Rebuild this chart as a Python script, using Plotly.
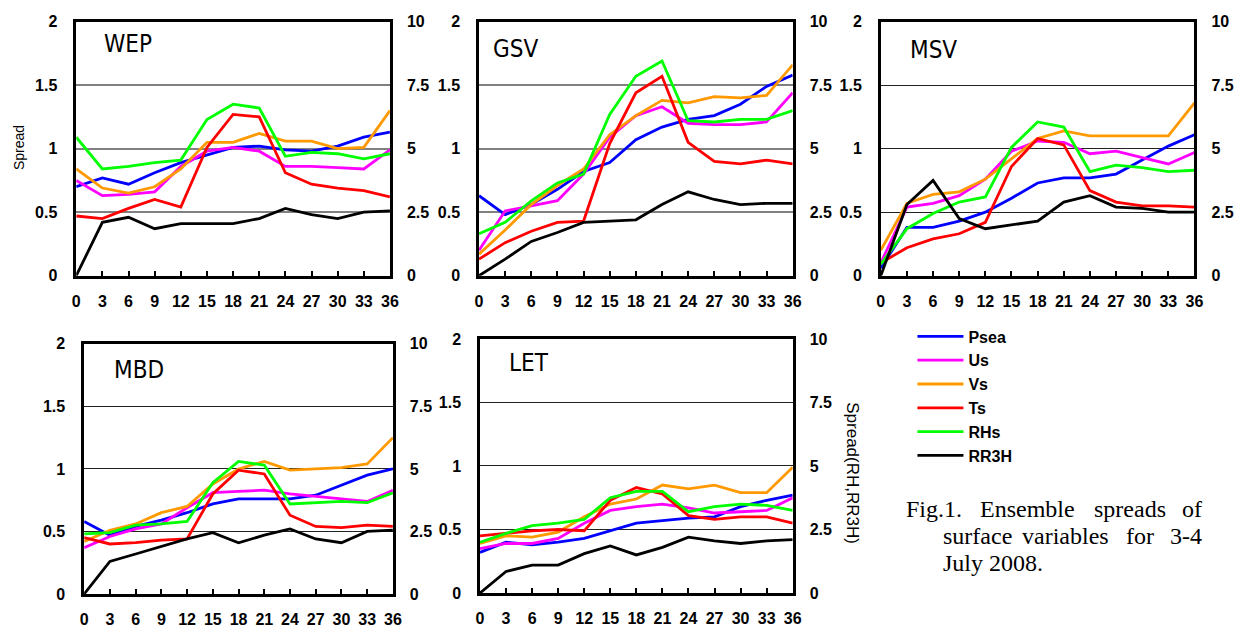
import plotly.graph_objects as go

# ---------------- data ----------------
hours = [0, 3, 6, 9, 12, 15, 18, 21, 24, 27, 30, 33, 36]
left_ticks = [0, 0.5, 1, 1.5, 2]
left_ticktext = ["0", "0.5", "1", "1.5", "2"]
right_ticks = [0, 2.5, 5, 7.5, 10]
right_ticktext = ["0", "2.5", "5", "7.5", "10"]

series_names = ["Psea", "Us", "Vs", "Ts", "RHs", "RR3H"]
series_colors = ["#0000FF", "#FF00FF", "#FF9900", "#FF0000", "#00FF00", "#000000"]

# WEP (Psea, Us, Vs, Ts on left axis; RHs, RR3H on right axis)
wep_psea = [0.70, 0.77, 0.72, 0.81, 0.89, 0.95, 1.01, 1.02, 0.99, 0.98, 1.02, 1.09, 1.13]
wep_us = [0.75, 0.63, 0.64, 0.66, 0.86, 0.98, 1.01, 0.98, 0.86, 0.86, 0.85, 0.84, 0.99]
wep_vs = [0.84, 0.69, 0.65, 0.70, 0.84, 1.05, 1.05, 1.12, 1.06, 1.06, 1.00, 1.01, 1.30]
wep_ts = [0.47, 0.45, 0.53, 0.60, 0.54, 1.01, 1.27, 1.25, 0.81, 0.72, 0.69, 0.67, 0.62]
wep_rhs = [5.45, 4.2, 4.3, 4.45, 4.55, 6.15, 6.75, 6.6, 4.7, 4.85, 4.8, 4.6, 4.8]
wep_rr3h = [0.0, 2.1, 2.3, 1.85, 2.05, 2.05, 2.05, 2.25, 2.65, 2.4, 2.25, 2.5, 2.55]

# GSV
gsv_psea = [0.63, 0.48, 0.56, 0.68, 0.82, 0.89, 1.07, 1.17, 1.23, 1.26, 1.35, 1.49, 1.58]
gsv_us = [0.20, 0.51, 0.55, 0.59, 0.80, 1.09, 1.26, 1.33, 1.20, 1.19, 1.19, 1.21, 1.44]
gsv_vs = [0.17, 0.36, 0.56, 0.71, 0.84, 1.11, 1.26, 1.38, 1.36, 1.41, 1.40, 1.42, 1.66]
gsv_ts = [0.13, 0.26, 0.35, 0.42, 0.43, 1.04, 1.44, 1.57, 1.05, 0.90, 0.88, 0.91, 0.88]
gsv_rhs = [1.65, 2.1, 2.95, 3.65, 4.0, 6.35, 7.85, 8.45, 6.1, 6.05, 6.15, 6.15, 6.5]
gsv_rr3h = [0.0, 0.65, 1.35, 1.7, 2.1, 2.15, 2.2, 2.8, 3.3, 3.0, 2.8, 2.85, 2.85]

# MSV
msv_psea = [0.06, 0.38, 0.38, 0.43, 0.50, 0.61, 0.73, 0.77, 0.77, 0.80, 0.91, 1.02, 1.11]
msv_us = [0.10, 0.54, 0.57, 0.63, 0.76, 0.98, 1.06, 1.05, 0.96, 0.98, 0.93, 0.88, 0.97]
msv_vs = [0.20, 0.57, 0.64, 0.66, 0.76, 0.92, 1.08, 1.14, 1.10, 1.10, 1.10, 1.10, 1.36]
msv_ts = [0.10, 0.22, 0.29, 0.33, 0.42, 0.86, 1.08, 1.03, 0.67, 0.58, 0.55, 0.55, 0.54]
msv_rhs = [0.45, 1.85, 2.45, 2.9, 3.1, 5.05, 6.05, 5.85, 4.1, 4.35, 4.25, 4.1, 4.15]
msv_rr3h = [0.0, 2.8, 3.75, 2.25, 1.85, 2.0, 2.15, 2.9, 3.15, 2.7, 2.65, 2.5, 2.5]

# MBD
mbd_psea = [0.58, 0.47, 0.54, 0.59, 0.65, 0.72, 0.76, 0.76, 0.76, 0.79, 0.87, 0.95, 1.00]
mbd_us = [0.37, 0.46, 0.52, 0.56, 0.69, 0.81, 0.82, 0.83, 0.80, 0.78, 0.76, 0.74, 0.83]
mbd_vs = [0.42, 0.51, 0.56, 0.65, 0.70, 0.88, 1.00, 1.06, 0.99, 1.00, 1.01, 1.04, 1.25]
mbd_ts = [0.45, 0.40, 0.41, 0.43, 0.44, 0.80, 0.99, 0.96, 0.63, 0.54, 0.53, 0.55, 0.54]
mbd_rhs = [2.4, 2.45, 2.75, 2.8, 2.9, 4.45, 5.3, 5.15, 3.6, 3.65, 3.7, 3.65, 4.05]
mbd_rr3h = [0.0, 1.3, 1.6, 1.9, 2.2, 2.45, 2.05, 2.35, 2.6, 2.2, 2.05, 2.5, 2.55]

# LET
let_psea = [0.32, 0.40, 0.38, 0.40, 0.43, 0.49, 0.55, 0.57, 0.59, 0.60, 0.68, 0.73, 0.77]
let_us = [0.35, 0.39, 0.39, 0.43, 0.55, 0.65, 0.68, 0.70, 0.67, 0.63, 0.64, 0.65, 0.75]
let_vs = [0.39, 0.45, 0.44, 0.48, 0.60, 0.70, 0.74, 0.85, 0.82, 0.85, 0.79, 0.79, 0.99]
let_ts = [0.45, 0.47, 0.49, 0.50, 0.49, 0.73, 0.83, 0.78, 0.61, 0.58, 0.60, 0.60, 0.55]
let_rhs = [2.0, 2.35, 2.65, 2.75, 2.9, 3.75, 4.0, 4.0, 3.2, 3.4, 3.5, 3.45, 3.25]
let_rr3h = [0.0, 0.85, 1.1, 1.1, 1.55, 1.85, 1.5, 1.8, 2.2, 2.05, 1.95, 2.05, 2.1]

panel_names = ["WEP", "GSV", "MSV", "MBD", "LET"]
panel_data = {
    "WEP": [wep_psea, wep_us, wep_vs, wep_ts, wep_rhs, wep_rr3h],
    "GSV": [gsv_psea, gsv_us, gsv_vs, gsv_ts, gsv_rhs, gsv_rr3h],
    "MSV": [msv_psea, msv_us, msv_vs, msv_ts, msv_rhs, msv_rr3h],
    "MBD": [mbd_psea, mbd_us, mbd_vs, mbd_ts, mbd_rhs, mbd_rr3h],
    "LET": [let_psea, let_us, let_vs, let_ts, let_rhs, let_rr3h],
}
right_axis_series = {"RHs", "RR3H"}

caption_words = [
    ["Fig.1.", "Ensemble", "spreads", "of"],
    ["surface", "variables", "for", "3-4"],
    ["July 2008."],
]

# ---------------- layout helpers ----------------
W, H = 1249, 640


def fx(p):
    return p / W


def fy(p):
    return 1 - p / H


# pixel boxes (x0, x1, ytop, ybottom), gridline style, title centre
panel_boxes = {
    "WEP": ((73, 390, 14, 275), ("#808080", 2), (125, 37)),
    "GSV": ((480, 797, 14, 275), ("#808080", 2), (517, 42)),
    "MSV": ((886, 1203, 14, 275), ("#222222", 1.2), (939, 43)),
    "MBD": ((81, 393, 345, 602), ("#222222", 1.2), (136, 372)),
    "LET": ((481, 797, 340, 601), ("#222222", 1.2), (531, 365)),
}

tick_font = dict(family="Liberation Sans, Arial, sans-serif", size=16, color="black", weight="bold")
title_font = dict(family="DejaVu Sans Condensed, Liberation Sans Narrow, Arial Narrow, sans-serif",
                  size=24, color="black")

fig = go.Figure()
layout = dict(
    width=W, height=H,
    margin=dict(l=0, r=0, t=0, b=0),
    paper_bgcolor="white", plot_bgcolor="white",
    showlegend=True,
)
annotations = []

for i, name in enumerate(panel_names, start=1):
    (x0, x1, yt, yb), (gcol, gw), (tx, ty) = panel_boxes[name]
    xd = [fx(x0), fx(x1)]
    yd = [fy(yb), fy(yt)]
    layout[f"xaxis{i}"] = dict(
        domain=xd, anchor=f"y{i}", range=[0, 36],
        tickmode="array", tickvals=hours, ticktext=[str(h) for h in hours],
        ticks="inside", ticklen=5, tickwidth=1.5, tickcolor="black",
        showline=True, linecolor="black", linewidth=2.5, mirror=True,
        showgrid=False, zeroline=False, tickfont=tick_font, ticklabelstandoff=9,
    )
    layout[f"yaxis{i}"] = dict(
        domain=yd, anchor=f"x{i}", range=[0, 2],
        tickmode="array", tickvals=left_ticks, ticktext=left_ticktext,
        showline=True, linecolor="black", linewidth=2.5,
        showgrid=True, gridcolor=gcol, gridwidth=gw, zeroline=False,
        ticks="", tickfont=tick_font, ticklabelstandoff=13,
    )
    layout[f"yaxis{i + 5}"] = dict(
        overlaying=f"y{i}", anchor=f"x{i}", side="right", range=[0, 10],
        tickmode="array", tickvals=right_ticks, ticktext=right_ticktext,
        showline=True, linecolor="black", linewidth=2.5,
        showgrid=False, zeroline=False, ticks="", tickfont=tick_font, ticklabelstandoff=11,
    )
    for s, (sname, col) in enumerate(zip(series_names, series_colors)):
        on_right = sname in right_axis_series
        fig.add_trace(go.Scatter(
            x=hours, y=panel_data[name][s], mode="lines", name=sname,
            line=dict(color=col, width=2.8),
            xaxis=f"x{i}", yaxis=f"y{i + 5}" if on_right else f"y{i}",
            showlegend=(i == 1), legendgroup=sname,
        ))
    annotations.append(dict(
        text=name, xref="paper", yref="paper", x=fx(tx), y=fy(ty),
        xanchor="center", yanchor="middle", showarrow=False, font=title_font,
    ))

# axis titles
annotations.append(dict(
    text="Spread", xref="paper", yref="paper", x=fx(15), y=fy(143), textangle=-90,
    xanchor="center", yanchor="middle", showarrow=False,
    font=dict(family="Liberation Sans, Arial, sans-serif", size=14, color="black"),
))
annotations.append(dict(
    text="Spread(RH,RR3H)", xref="paper", yref="paper", x=fx(858), y=fy(478), textangle=90,
    xanchor="center", yanchor="middle", showarrow=False,
    font=dict(family="Liberation Sans, Arial, sans-serif", size=17, color="black"),
))

# caption, word-justified like the original
cap_font = dict(family="Liberation Serif, Times New Roman, serif", size=24, color="black")
cap_lines_y = [515, 542, 570]
cap_positions = [
    [(909, "left"), (984, "left"), (1099, "left"), (1213, "right")],
    [(947, "left"), (1027, "left"), (1132, "left"), (1213, "right")],
    [(947, "left")],
]
for words, positions, ly in zip(caption_words, cap_positions, cap_lines_y):
    for w, (px, anc) in zip(words, positions):
        annotations.append(dict(
            text=w, xref="paper", yref="paper", x=fx(px), y=fy(ly),
            xanchor=anc, yanchor="middle", showarrow=False, font=cap_font,
        ))

layout["annotations"] = annotations
layout["legend"] = dict(
    x=fx(918), y=fy(320), xanchor="left", yanchor="top",
    bgcolor="rgba(0,0,0,0)", borderwidth=0, itemwidth=46,
    font=dict(family="Liberation Sans, Arial, sans-serif", size=16, color="black", weight="bold"),
    tracegroupgap=0,
)

fig.update_layout(**layout)
fig.write_html("out.html", config={"displayModeBar": False},
               post_script="document.body.style.margin='0';")
